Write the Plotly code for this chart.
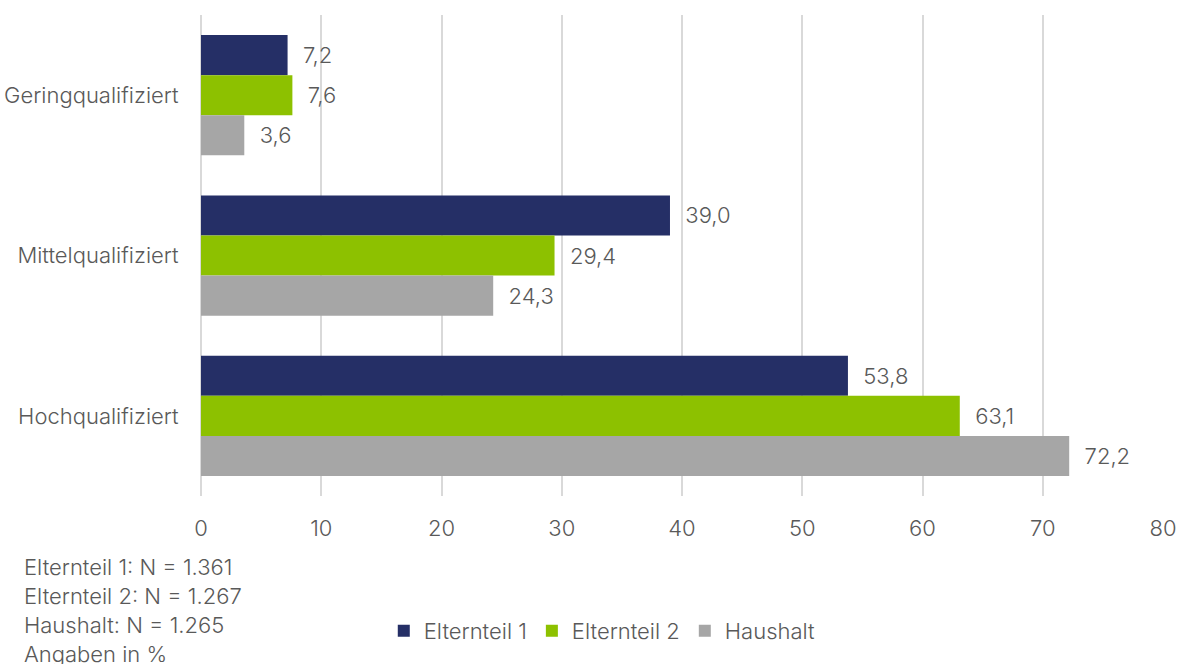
import plotly.graph_objects as go

categories = ["Geringqualifiziert", "Mittelqualifiziert", "Hochqualifiziert"]
series_names = ["Elternteil 1", "Elternteil 2", "Haushalt"]
elternteil_1 = [7.2, 39.0, 53.8]
elternteil_2 = [7.6, 29.4, 63.1]
haushalt = [3.6, 24.3, 72.2]
series_colors = ["#252F66", "#8DC100", "#A6A6A6"]
notes = [
    "Elternteil 1: N = 1.361",
    "Elternteil 2: N = 1.267",
    "Haushalt: N = 1.265",
    "Angaben in %",
]
x_ticks = [0, 10, 20, 30, 40, 50, 60, 70, 80]

FONT = "Inter"
FONT_SIZE = 22
TEXT_COLOR = "#595959"


def de_label(v):
    return "\u00a0\u00a0" + f"{v:.1f}".replace(".", ",")


fig = go.Figure()
for name, vals, col in zip(series_names, [elternteil_1, elternteil_2, haushalt], series_colors):
    fig.add_trace(go.Bar(
        name=name,
        x=vals,
        y=categories,
        orientation="h",
        marker=dict(color=col, line=dict(width=0)),
        text=[de_label(v) for v in vals],
        textposition="outside",
        textfont=dict(family=FONT, size=FONT_SIZE, color=TEXT_COLOR, weight=300),
        cliponaxis=False,
    ))

fig.update_layout(
    width=1182,
    height=664,
    barmode="group",
    bargap=0.25,
    bargroupgap=0,
    plot_bgcolor="white",
    paper_bgcolor="white",
    margin=dict(l=201, r=19, t=15, b=168),
    font=dict(family=FONT, size=FONT_SIZE, color=TEXT_COLOR, weight=300),
    xaxis=dict(
        range=[0, 80],
        tickvals=x_ticks,
        showgrid=True,
        gridcolor="#D9D9D9",
        gridwidth=1.5,
        zeroline=True,
        zerolinecolor="#D9D9D9",
        zerolinewidth=1.5,
        ticks="outside",
        ticklen=13,
        tickcolor="rgba(0,0,0,0)",
        tickfont=dict(size=FONT_SIZE),
        showline=False,
        automargin=False,
    ),
    yaxis=dict(
        autorange="reversed",
        ticks="outside",
        ticklen=17,
        tickcolor="rgba(0,0,0,0)",
        tickfont=dict(size=FONT_SIZE),
        showline=False,
        showgrid=False,
        automargin=False,
    ),
    legend=dict(
        orientation="h",
        x=0.19,
        xanchor="left",
        y=-0.2807,
        yanchor="middle",
        font=dict(size=FONT_SIZE),
        itemclick=False,
    ),
)

for i, line in enumerate(notes):
    fig.add_annotation(
        text=line,
        xref="paper",
        yref="paper",
        x=(22 - 201) / 962,
        xanchor="left",
        y=(496 - (567 + 29 * i)) / 481,
        yanchor="middle",
        showarrow=False,
        font=dict(size=FONT_SIZE, color=TEXT_COLOR),
    )

fig.write_html("out.html")
